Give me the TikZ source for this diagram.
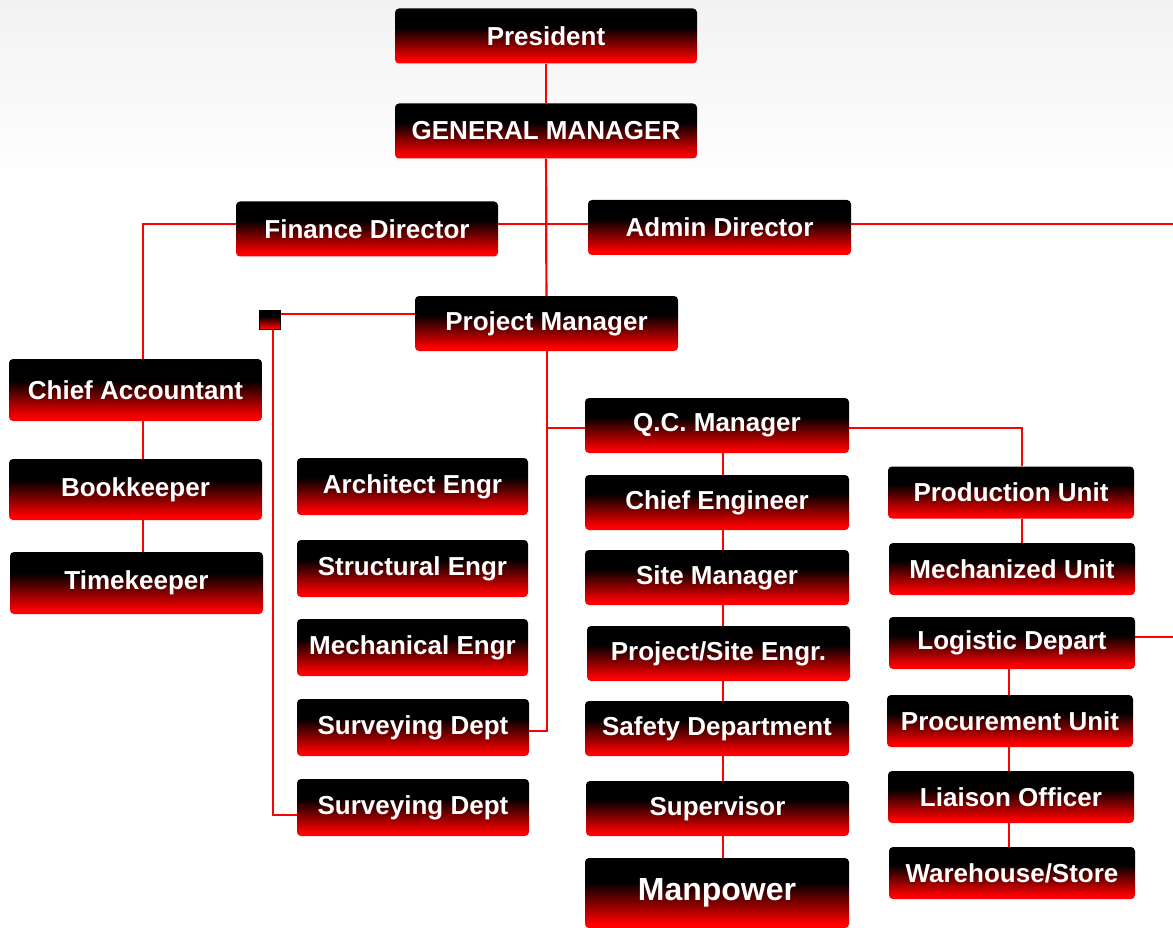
\documentclass[tikz,border=0pt]{standalone}
\usepackage{fontspec}
\setmainfont{Liberation Sans}
\usetikzlibrary{calc}

\pgfdeclarelayer{bg}
\pgfsetlayers{bg,main}

% black top, red bottom
\pgfdeclareverticalshading{blackred}{100bp}{color(0bp)=(red); color(28bp)=(red); color(58bp)=(black); color(100bp)=(black)}

\tikzset{
  post/.style={shade, shading=blackred, rounded corners=4pt, text=white,
    font=\bfseries\fontsize{26}{30}\selectfont, inner sep=0pt,
    minimum width=263pt, minimum height=55pt},
  link/.style={red, line width=2.2pt},
}

\begin{document}
\begin{tikzpicture}[x=1pt,y=-1pt]

\useasboundingbox (0,0) rectangle (1173,928);

% Top of the chart
\node[post, minimum width=302pt] (Pres) at (546,36) {President};
\node[post, minimum width=302pt] (GM) at (546,131) {GENERAL MANAGER};
\node[post, minimum width=262pt] (FD) at (367,229) {Finance Director};
\node[post] (AD) at (719.5,227.5) {Admin Director};
\node[post] (PM) at (546.5,323.5) {Project Manager};

% Small box left of the project manager
\node[shade, shading=blackred, draw=black, line width=0.8pt, inner sep=0pt,
  minimum width=21pt, minimum height=19pt] (SQ) at (269.5,319.5) {};

% Finance column
\node[post, minimum width=253pt, minimum height=62pt] (CA) at (135.5,390) {Chief Accountant};
\node[post, minimum width=253pt, minimum height=61pt] (BK) at (135.5,489.5) {Bookkeeper};
\node[post, minimum width=253pt, minimum height=62pt] (TK) at (136.5,583) {Timekeeper};

% Engineers
\node[post, minimum width=231pt, minimum height=57pt] (AE) at (412.5,486.5) {Architect Engr};
\node[post, minimum width=231pt, minimum height=57pt] (SE) at (412.5,568.5) {Structural Engr};
\node[post, minimum width=231pt, minimum height=57pt] (ME) at (412.5,647.5) {Mechanical Engr};
\node[post, minimum width=232pt, minimum height=57pt] (SD1) at (413,727.5) {Surveying Dept};
\node[post, minimum width=232pt, minimum height=57pt] (SD2) at (413,807.5) {Surveying Dept};

% Site column
\node[post, minimum width=264pt] (QC) at (717,425.5) {Q.C. Manager};
\node[post, minimum width=264pt] (CE) at (717,502.5) {Chief Engineer};
\node[post, minimum width=264pt] (SM) at (717,577.5) {Site Manager};
\node[post] (PE) at (718.5,653.5) {Project/Site Engr.};
\node[post, minimum width=264pt] (SF) at (717,728.5) {Safety Department};
\node[post] (SV) at (717.5,808.5) {Supervisor};
\node[post, minimum width=264pt, minimum height=70pt,
  font=\bfseries\fontsize{32}{36}\selectfont] (MP) at (717,893) {Manpower};

% Units
\node[post, minimum width=246pt, minimum height=52pt] (PU) at (1011,492.5) {Production Unit};
\node[post, minimum width=246pt, minimum height=52pt] (MU) at (1012,569) {Mechanized Unit};
\node[post, minimum width=246pt, minimum height=52pt] (LD) at (1012,643) {Logistic Depart};
\node[post, minimum width=246pt, minimum height=52pt] (PrU) at (1010,721) {Procurement Unit};
\node[post, minimum width=246pt, minimum height=52pt] (LO) at (1011,797) {Liaison Officer};
\node[post, minimum width=246pt, minimum height=52pt] (WS) at (1012,873) {Warehouse/Store};

% Helper points for the lines
\coordinate (L1) at (143,224);
\coordinate (R1) at (1173,224);
\coordinate (Y1) at (0,314);
\coordinate (S1) at (273,815);
\coordinate (P1) at (547,731);
\coordinate (M1) at (723,0);
\coordinate (Q1) at (1022,428);
\coordinate (R2) at (1173,637);
\coordinate (N1) at (1009,0);

\begin{pgfonlayer}{bg}
% Background
\shade[top color=black!5, bottom color=white] (0,0) rectangle (1173,190);

% Lines
\draw[link] (Pres) -- (GM);
\draw[link] (GM) -- (PM);
\draw[link] (L1 |- CA.north) -- (L1) -- (R1);
\draw[link] (L1 |- CA.south) -- (L1 |- BK.north);
\draw[link] (L1 |- BK.south) -- (L1 |- TK.north);

\draw[link] (SQ.east |- Y1) -- (PM.west |- Y1);
\draw[link] (S1 |- SQ.south) -- (S1) -- (SD2.west |- S1);

\draw[link] (PM.south -| P1) -- (P1) -- (SD1.east |- P1);
\draw[link] (P1 |- Q1) -- (QC.west |- Q1);

\foreach \a/\b in {QC/CE, CE/SM, SM/PE, PE/SF, SF/SV, SV/MP}
  \draw[link] (M1 |- \a.south) -- (M1 |- \b.north);

\draw[link] (QC.east |- Q1) -- (Q1) -- (Q1 |- PU.north);
\draw[link] (Q1 |- PU.south) -- (Q1 |- MU.north);
\draw[link] (LD.east |- R2) -- (R2);

\foreach \a/\b in {LD/PrU, PrU/LO, LO/WS}
  \draw[link] (N1 |- \a.south) -- (N1 |- \b.north);
\end{pgfonlayer}

\end{tikzpicture}
\end{document}
